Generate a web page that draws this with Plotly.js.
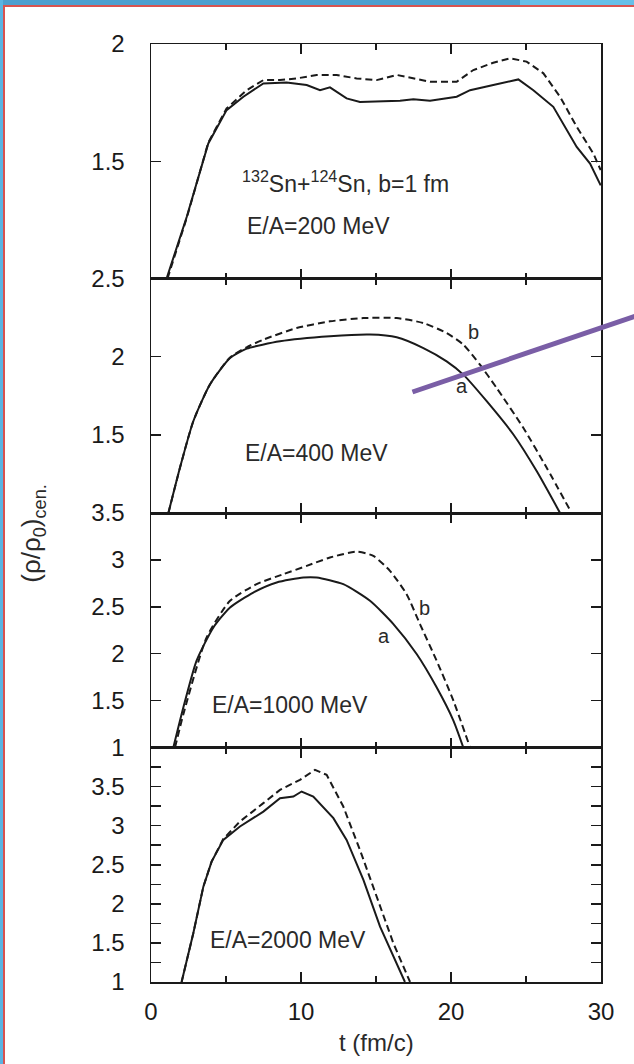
<!DOCTYPE html>
<html>
<head>
<meta charset="utf-8">
<script src="https://cdn.plot.ly/plotly-3.0.1.min.js"></script>
<style>
  html, body { margin: 0; padding: 0; background: #ffffff; }
  #wrap { position: relative; width: 634px; height: 1064px; overflow: hidden; }
  #plot { position: absolute; left: 0; top: 0; width: 634px; height: 1064px; }
  .fr { position: absolute; pointer-events: none; }
</style>
</head>
<body>
<div id="wrap">
  <div id="plot"></div>
  <div class="fr" style="left:0;top:0;width:520px;height:5px;background:#4d9fcf;"></div>
  <div class="fr" style="left:520px;top:0;width:114px;height:5px;background:#66bfe8;"></div>
  <div class="fr" style="left:0;top:5px;width:634px;height:2px;background:#d9534f;"></div>
  <div class="fr" style="left:0;top:0;width:3px;height:1064px;background:#5ab4e2;"></div>
  <div class="fr" style="left:3px;top:5px;width:2px;height:1059px;background:#d9534f;"></div>
</div>
<script>
// ---- data ----
// E/A = 200 MeV
const t200a   = [1.04, 2.38, 3.82, 5.04, 6.16, 7.49, 9.04, 10.38, 11.27, 11.93, 13.04, 13.93, 15.49, 16.6, 17.49, 18.6, 20.38, 21.27, 22.82, 24.49, 25.49, 26.82, 28.38, 29.27, 29.98];
const rho200a = [1.00, 1.262, 1.576, 1.718, 1.775, 1.832, 1.836, 1.825, 1.803, 1.815, 1.768, 1.753, 1.756, 1.758, 1.764, 1.758, 1.775, 1.803, 1.825, 1.849, 1.803, 1.732, 1.561, 1.49, 1.397];
const t200b   = [1.1, 2.4, 3.82, 5.04, 6.38, 7.49, 8.6, 9.71, 11.04, 12.38, 13.71, 15.04, 16.38, 17.49, 18.6, 20.38, 21.49, 22.82, 23.93, 25.04, 26.16, 27.27, 28.38, 29.49, 29.98];
const rho200b = [1.00, 1.262, 1.58, 1.725, 1.803, 1.846, 1.846, 1.853, 1.868, 1.868, 1.853, 1.846, 1.868, 1.853, 1.839, 1.839, 1.889, 1.92, 1.939, 1.925, 1.875, 1.775, 1.647, 1.533, 1.462];
// E/A = 400 MeV
const t400a   = [1.16, 1.93, 2.82, 3.93, 5.27, 6.38, 8.6, 11.93, 14.6, 16.38, 18.16, 19.71, 20.82, 22.38, 24.16, 25.71, 27.27];
const rho400a = [1.00, 1.289, 1.587, 1.822, 1.991, 2.051, 2.098, 2.13, 2.141, 2.124, 2.055, 1.97, 1.885, 1.715, 1.502, 1.268, 1.00];
const t400b   = [1.16, 1.93, 2.82, 3.93, 5.27, 6.38, 7.49, 9.71, 11.93, 14.16, 16.38, 18.16, 19.71, 20.82, 21.93, 23.04, 24.82, 26.38, 28.04];
const rho400b = [1.00, 1.289, 1.587, 1.822, 1.995, 2.06, 2.109, 2.183, 2.226, 2.247, 2.247, 2.215, 2.151, 2.077, 1.949, 1.80, 1.545, 1.289, 1.00];
// E/A = 1000 MeV
const t1000a   = [1.49, 2.16, 3.04, 4.16, 5.27, 6.82, 8.38, 10.16, 11.04, 12.82, 14.6, 16.16, 17.71, 19.04, 20.16, 20.82];
const rho1000a = [1.00, 1.429, 1.926, 2.28, 2.493, 2.652, 2.759, 2.812, 2.812, 2.741, 2.564, 2.316, 1.997, 1.642, 1.287, 1.00];
const t1000b   = [1.6, 2.2, 3.71, 5.27, 7.04, 8.82, 10.38, 11.93, 13.71, 14.82, 15.93, 17.04, 17.93, 19.04, 20.16, 21.27];
const rho1000b = [1.00, 1.38, 2.173, 2.564, 2.741, 2.848, 2.936, 3.025, 3.088, 3.043, 2.883, 2.635, 2.316, 1.926, 1.50, 1.00];
// E/A = 2000 MeV
const t2000a   = [2.04, 2.82, 3.49, 4.04, 4.82, 5.93, 7.49, 8.6, 9.49, 10.04, 10.82, 12.16, 13.04, 14.16, 15.27, 16.38, 16.93];
const rho2000a = [1.00, 1.623, 2.22, 2.54, 2.818, 2.989, 3.18, 3.352, 3.373, 3.437, 3.373, 3.096, 2.818, 2.306, 1.708, 1.239, 1.00];
const t2000b   = [2.04, 2.82, 3.49, 4.04, 4.82, 5.93, 7.49, 8.6, 9.93, 10.93, 11.71, 12.82, 13.93, 15.04, 16.16, 17.27];
const rho2000b = [1.00, 1.623, 2.22, 2.54, 2.83, 3.053, 3.288, 3.458, 3.586, 3.714, 3.65, 3.245, 2.69, 2.092, 1.495, 1.00];

// tick labels
const xTickVals = [0, 10, 20, 30];
const xTickText = ['0', '10', '20', '30'];
const y1TickVals = [1.5, 2];            const y1TickText = ['1.5', '2'];
const y2TickVals = [1.5, 2, 2.5];       const y2TickText = ['1.5', '2', '2.5'];
const y3TickVals = [1, 1.5, 2, 2.5, 3, 3.5]; const y3TickText = ['1', '1.5', '2', '2.5', '3', '3.5'];
const y4TickVals = [1, 1.5, 2, 2.5, 3, 3.5]; const y4TickText = ['1', '1.5', '2', '2.5', '3', '3.5'];

// ---- drawing ----
const FONT = 'Liberation Sans, Arial, Helvetica, sans-serif';
const ink = '#1a1a1a';
function solid(x, y, xa, ya, smooth) {
  return {x: x, y: y, xaxis: xa, yaxis: ya, mode: 'lines', type: 'scatter',
          line: {color: ink, width: 2, shape: smooth ? 'spline' : 'linear', smoothing: 0.6},
          showlegend: false, hoverinfo: 'skip'};
}
function dashed(x, y, xa, ya, smooth) {
  return {x: x, y: y, xaxis: xa, yaxis: ya, mode: 'lines', type: 'scatter',
          line: {color: ink, width: 2, dash: '7px,4px', shape: smooth ? 'spline' : 'linear', smoothing: 0.6},
          showlegend: false, hoverinfo: 'skip'};
}
const traces = [
  solid(t200a, rho200a, 'x4', 'y4', false), dashed(t200b, rho200b, 'x4', 'y4', false),
  solid(t400a, rho400a, 'x3', 'y3', true),  dashed(t400b, rho400b, 'x3', 'y3', true),
  solid(t1000a, rho1000a, 'x2', 'y2', true), dashed(t1000b, rho1000b, 'x2', 'y2', true),
  solid(t2000a, rho2000a, 'x', 'y', false), dashed(t2000b, rho2000b, 'x', 'y', false)
];

function xax(anchor, labels) {
  return {anchor: anchor, range: [0, 30], showline: true, linecolor: ink, linewidth: 1.5,
          mirror: 'ticks', ticks: 'inside', ticklen: 10, tickwidth: 1.5, tickcolor: ink,
          tickmode: 'array', tickvals: xTickVals, ticktext: xTickText,
          showticklabels: labels, showgrid: false, zeroline: false,
          ticklabelstandoff: 8,
          tickfont: {family: FONT, size: 24, color: ink},
          minor: {dtick: 5, tick0: 0, ticks: 'inside', ticklen: 6, tickwidth: 1.5, tickcolor: ink, showgrid: false}};
}
function yax(domain, range, vals, text, minor) {
  const a = {domain: domain, range: range, anchor: 'x', showline: true, linecolor: ink, linewidth: 1.5,
          mirror: 'ticks', ticks: 'inside', ticklen: 10, tickwidth: 1.5, tickcolor: ink,
          tickmode: 'array', tickvals: vals, ticktext: text, showgrid: false, zeroline: false,
          ticklabelstandoff: 20,
          tickfont: {family: FONT, size: 24, color: ink}};
  if (minor) a.minor = {dtick: 0.25, tick0: 1, ticks: 'inside', ticklen: 10, tickwidth: 1.5, tickcolor: ink, showgrid: false};
  return a;
}
const y1 = yax([0, 0.25], [1, 4], y4TickVals, y4TickText, true);
const y2 = yax([0.25, 0.5], [1, 3.5], y3TickVals, y3TickText, false); y2.anchor = 'x2';
const y3 = yax([0.5, 0.75], [1, 2.5], y2TickVals, y2TickText, false); y3.anchor = 'x3';
const y4 = yax([0.75, 1], [1, 2], y1TickVals, y1TickText, false);   y4.anchor = 'x4';

function note(text, x, y, xr, yr, size) {
  return {text: text, x: x, y: y, xref: xr, yref: yr, xanchor: 'left', yanchor: 'middle',
          showarrow: false, font: {family: FONT, size: size, color: '#2a2a2a'}};
}
const annotations = [
  note('<sup>132</sup>Sn+<sup>124</sup>Sn, b=1 fm', 5.9, 1.41, 'x4', 'y4', 23),
  note('E/A=200 MeV', 6.25, 1.225, 'x4', 'y4', 23),
  note('E/A=400 MeV', 6.1, 1.385, 'x3', 'y3', 23),
  note('b', 21.0, 2.16, 'x3', 'y3', 20),
  note('a', 20.2, 1.81, 'x3', 'y3', 20),
  note('E/A=1000 MeV', 3.9, 1.45, 'x2', 'y2', 23),
  note('b', 17.7, 2.49, 'x2', 'y2', 20),
  note('a', 15.0, 2.19, 'x2', 'y2', 20),
  note('E/A=2000 MeV', 3.8, 1.54, 'x', 'y', 23),
  {text: '(ρ/ρ<sub>0</sub>)<sub>cen.</sub>', x: -0.262, y: 0.478, xref: 'paper', yref: 'paper',
   xanchor: 'center', yanchor: 'middle', textangle: -90, showarrow: false,
   font: {family: FONT, size: 26, color: '#2a2a2a'}},
  {text: 't (fm/c)', x: 0.5, y: -0.065, xref: 'paper', yref: 'paper',
   xanchor: 'center', yanchor: 'middle', showarrow: false,
   font: {family: FONT, size: 24, color: '#2a2a2a'}}
];

const layout = {
  width: 634, height: 1064,
  margin: {l: 151, r: 33, t: 44, b: 82, pad: 0},
  paper_bgcolor: '#ffffff', plot_bgcolor: '#ffffff',
  showlegend: false,
  xaxis: xax('y', true), xaxis2: xax('y2', false), xaxis3: xax('y3', false), xaxis4: xax('y4', false),
  yaxis: y1, yaxis2: y2, yaxis3: y3, yaxis4: y4,
  annotations: annotations,
  shapes: [{type: 'line', xref: 'paper', yref: 'paper', x0: 0.581, y0: 0.629, x1: 1.08, y1: 0.7105,
            line: {color: '#7a5ea6', width: 5}, layer: 'above'}]
};
Plotly.newPlot('plot', traces, layout, {displayModeBar: false, staticPlot: true});
</script>
</body>
</html>
